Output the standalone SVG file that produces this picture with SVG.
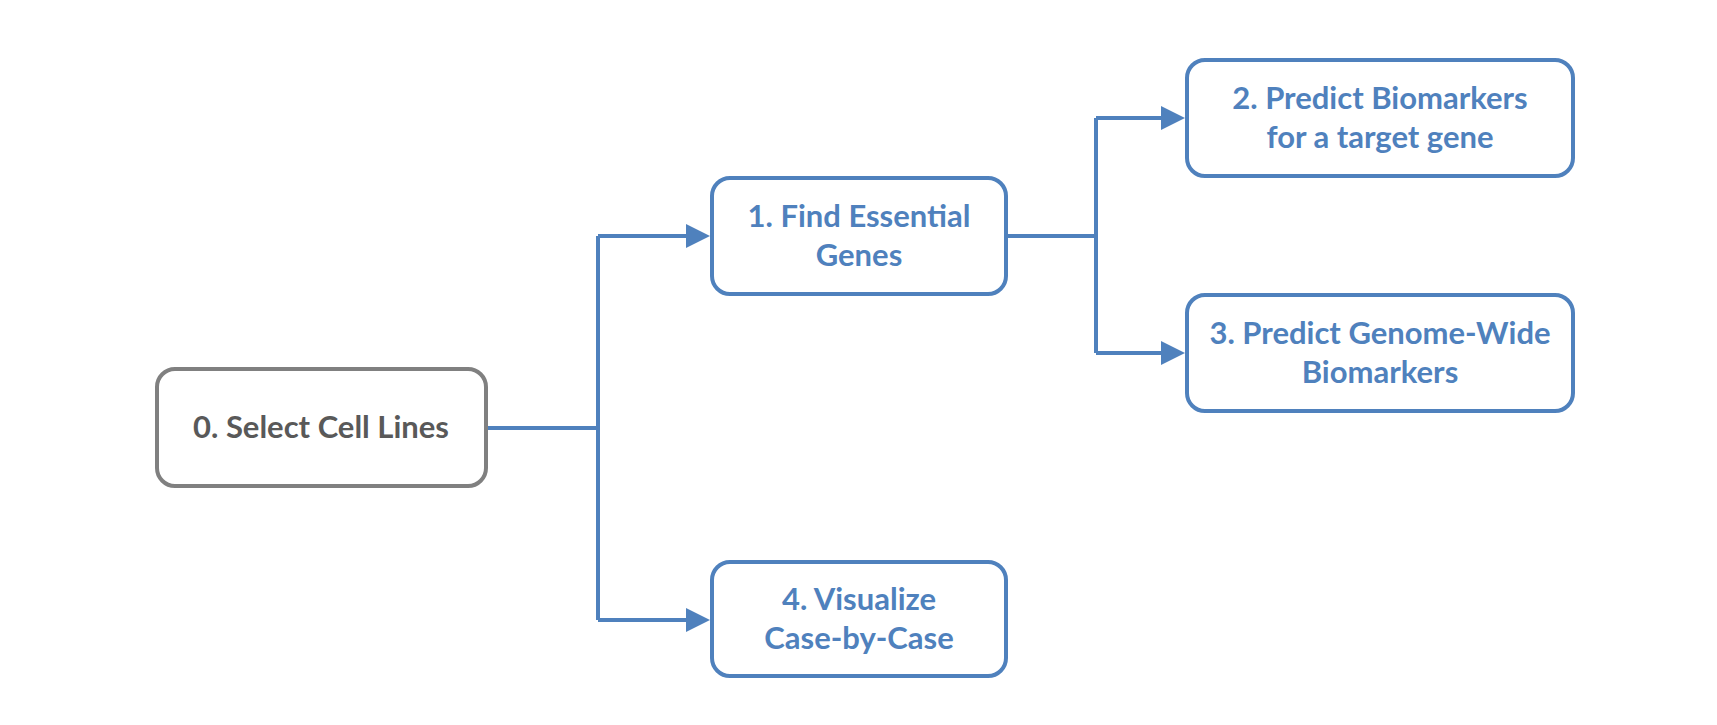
<svg xmlns="http://www.w3.org/2000/svg" width="1717" height="725" viewBox="0 0 1717 725">
<style>
.box{fill:#fff;stroke:#4F81BD;stroke-width:4}
.grey{stroke:#808080}
.t{font-family:Lato,"Open Sans",sans-serif;font-weight:bold;font-size:31px;fill:#4F81BD;text-anchor:middle}
.tg{fill:#595959}
.c{fill:none;stroke:#4F81BD;stroke-width:4}
</style>
<defs>
<marker id="arr" markerUnits="userSpaceOnUse" markerWidth="24" markerHeight="24" viewBox="0 0 24 24" refX="14" refY="12" orient="auto">
<path d="M0,0 L24,12 L0,24 z" fill="#4F81BD"/>
</marker>
</defs>
<rect width="1717" height="725" fill="#fff"/>
<g id="connectors">
<path class="c" d="M486,428 H598"/>
<path class="c" d="M598,236 V620"/>
<path class="c" d="M598,236 H700" marker-end="url(#arr)"/>
<path class="c" d="M598,620 H700" marker-end="url(#arr)"/>
<path class="c" d="M1006,236 H1096"/>
<path class="c" d="M1096,118 V353"/>
<path class="c" d="M1096,118 H1175" marker-end="url(#arr)"/>
<path class="c" d="M1096,353 H1175" marker-end="url(#arr)"/>
</g>
<g id="node0">
<rect class="box grey" x="157" y="369" width="329" height="117" rx="18"/>
<text class="t tg" x="321" y="438">0. Select Cell Lines</text>
</g>
<g id="node1">
<rect class="box" x="712" y="178" width="294" height="116" rx="18"/>
<text class="t" x="859" y="227">1. Find Essential</text>
<text class="t" x="859" y="266">Genes</text>
</g>
<g id="node2">
<rect class="box" x="1187" y="60" width="386" height="116" rx="18"/>
<text class="t" x="1380" y="109">2. Predict Biomarkers</text>
<text class="t" x="1380" y="148">for a target gene</text>
</g>
<g id="node3">
<rect class="box" x="1187" y="295" width="386" height="116" rx="18"/>
<text class="t" x="1380" y="344">3. Predict Genome-Wide</text>
<text class="t" x="1380" y="383">Biomarkers</text>
</g>
<g id="node4">
<rect class="box" x="712" y="562" width="294" height="114" rx="18"/>
<text class="t" x="859" y="610">4. Visualize</text>
<text class="t" x="859" y="649">Case-by-Case</text>
</g>
</svg>
